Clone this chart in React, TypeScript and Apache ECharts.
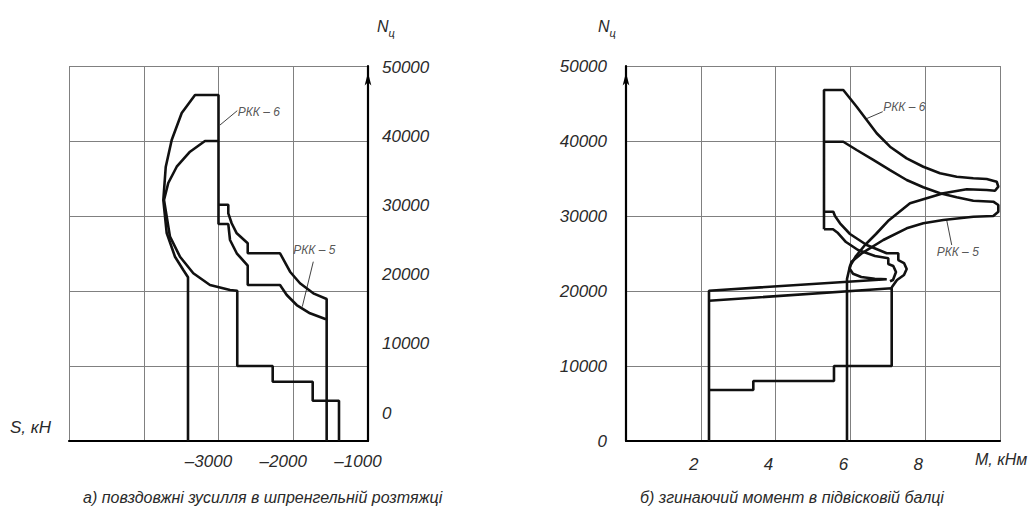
import React, { useEffect, useRef } from "react";
import * as echarts from "echarts";

// ---------- Left chart: S, kN (x) vs Nц (y) ----------
const leftXTicks = [-5000, -4000, -3000, -2000, -1000];
const leftYTicks = [0, 10000, 20000, 30000, 40000, 50000];

const leftOuter: [number, number][] = [
  [-3408, 0], [-3408, 21830], [-3471, 22800], [-3582, 24570], [-3693, 27730],
  [-3738, 32130], [-3706, 36530], [-3626, 40130], [-3492, 43730], [-3314, 46130],
  [-3000, 46130], [-3000, 28930], [-2869, 28930], [-2846, 26800], [-2756, 25030],
  [-2609, 23370], [-2609, 20800], [-2177, 20800], [-2087, 19470], [-1954, 18130],
  [-1776, 17030], [-1562, 16230],
];

const leftInner: [number, number][] = [
  [-1388, 0], [-1388, 5370], [-1740, 5370], [-1740, 7910], [-2275, 7910],
  [-2275, 10000], [-2749, 10000], [-2749, 20040], [-2846, 20130], [-3114, 20800],
  [-3337, 22360], [-3515, 24570], [-3649, 27240], [-3729, 32130], [-3672, 34400],
  [-3559, 36570], [-3381, 38570], [-3181, 40000], [-3000, 40000],
];

const leftUpperBranch: [number, number][] = [
  [-3000, 31510], [-2869, 31510], [-2869, 30360], [-2824, 29030], [-2756, 27690],
  [-2609, 26360], [-2609, 25030], [-2177, 25030], [-2043, 22570], [-1910, 21030],
  [-1732, 19690], [-1553, 18930], [-1553, 0],
];

const leftLeader6: [number, number][] = [[-2749, 44040], [-2980, 42130]];
const leftLeader5: [number, number][] = [[-1732, 23910], [-1879, 17910]];

// ---------- Right chart: M, kNm (x) vs Nц (y) ----------
const rightXTicks = [0, 2, 4, 6, 8, 10];
const rightYTicks = [0, 10000, 20000, 30000, 40000, 50000];

const rightRkk6Outer: [number, number][] = [
  [5.294, 28230], [5.294, 46800], [5.81, 46800], [6.168, 44570], [6.436, 42800],
  [6.703, 41030], [7.059, 39240], [7.505, 37690], [7.949, 36570], [8.396, 35690],
  [8.842, 35240], [9.286, 35030], [9.644, 34930], [9.912, 34570], [9.955, 33910],
  [9.866, 33370], [9.644, 33470], [9.11, 33560], [8.484, 33030], [7.594, 31690],
  [7.005, 29330], [6.684, 27600], [6.39, 26130], [6.15, 24670], [5.989, 23330],
  [5.909, 21600], [5.909, 0],
];

const rightRkk5Curve: [number, number][] = [
  [5.294, 39900], [5.81, 39900], [6.168, 38800], [6.612, 37470], [7.059, 36130],
  [7.505, 34800], [7.949, 33830], [8.396, 33030], [8.842, 32490], [9.286, 32040],
  [9.821, 31910], [9.955, 31470], [9.955, 30570], [9.821, 30000], [9.286, 29910],
  [8.484, 29470], [7.949, 29030], [7.505, 28360], [6.88, 26800], [6.291, 24970],
  [6.024, 23870], [5.981, 22970], [6.07, 22310], [6.291, 21870], [6.65, 21640],
  [6.971, 21560], [2.219, 20040], [2.219, 0],
];

const rightUpperBranch: [number, number][] = [
  [5.294, 30570], [5.543, 30570], [5.588, 30000], [5.722, 29030], [5.989, 27600],
  [6.436, 26130], [6.971, 25030], [7.281, 25030], [7.281, 24130], [7.433, 23730],
  [7.505, 22930], [7.433, 22130], [7.246, 21470], [7.112, 20530], [7.104, 20360],
];

const rightLowerBranch: [number, number][] = [
  [5.294, 28230], [5.535, 28230], [5.668, 27730], [5.882, 26530], [6.203, 25470],
  [6.658, 24670], [7.013, 24360], [7.013, 23600], [7.147, 23330], [7.219, 22530],
  [7.139, 21470], [7.059, 21300],
];

const rightSteps: [number, number][] = [
  [2.219, 18710], [7.104, 20360], [7.104, 10000], [5.561, 10000], [5.561, 8000],
  [3.404, 8000], [3.404, 6800], [2.219, 6800],
];

const rightLeader6: [number, number][] = [[6.864, 43910], [6.39, 42890]];
const rightLeader5: [number, number][] = [[8.574, 29470], [8.709, 26130]];

const FONT = "'Liberation Sans', 'DejaVu Sans', sans-serif";
const TEXT = "#2a2a2a";
const GRID = "#808080";
const INK = "#111";

function curve(data: [number, number][], axis: number, width = 2.6) {
  return {
    type: "line",
    xAxisIndex: axis,
    yAxisIndex: axis,
    data,
    symbol: "none",
    silent: true,
    lineStyle: { color: INK, width },
    z: 3,
  };
}

function tag(point: [number, number], axis: number, text: string, position: string, distance: number, offset: number[]) {
  return {
    type: "scatter",
    xAxisIndex: axis,
    yAxisIndex: axis,
    symbol: "circle",
    symbolSize: 1,
    itemStyle: { color: "rgba(0,0,0,0)" },
    silent: true,
    data: [{ value: point, name: text }],
    label: {
      show: true,
      formatter: text,
      position,
      distance,
      offset,
      fontFamily: FONT,
      fontStyle: "italic",
      fontSize: 12,
      color: TEXT,
    },
    z: 4,
  };
}

const tickText = {
  fontFamily: FONT,
  fontStyle: "italic",
  fontSize: 17,
  color: TEXT,
};

const plain = (v: number) => String(v);

function buildOption() {
  return {
    animation: false,
    backgroundColor: "#ffffff",
    grid: [
      { left: 69, top: 66, width: 299, height: 375 },
      { left: 69, top: 67, width: 299, height: 346 },
      { left: 626, top: 66, width: 374, height: 375 },
    ],
    xAxis: [
      {
        type: "value",
        gridIndex: 0,
        min: leftXTicks[0],
        max: leftXTicks[leftXTicks.length - 1],
        interval: 1000,
        axisLine: { show: true, onZero: false, lineStyle: { color: "#000", width: 2.2 } },
        axisTick: { show: false },
        splitLine: { show: true, lineStyle: { color: GRID, width: 1 } },
        axisLabel: {
          ...tickText,
          margin: 12,
          padding: [0, 20, 0, 0],
          formatter: (v: number) => (v >= -3000 ? "–" + Math.abs(v) : ""),
        },
      },
      { type: "value", gridIndex: 1, min: 0, max: 1, show: false },
      {
        type: "value",
        gridIndex: 2,
        min: rightXTicks[0],
        max: rightXTicks[rightXTicks.length - 1],
        interval: 2,
        axisLine: { show: true, onZero: false, lineStyle: { color: "#000", width: 2.2 } },
        axisTick: { show: false },
        splitLine: { show: true, lineStyle: { color: GRID, width: 1 } },
        axisLabel: {
          ...tickText,
          margin: 15,
          padding: [0, 14, 0, 0],
          formatter: (v: number) => (v === 0 || v === 10 ? "" : String(v)),
        },
      },
    ],
    yAxis: [
      {
        type: "value",
        gridIndex: 0,
        position: "right",
        min: leftYTicks[0],
        max: leftYTicks[leftYTicks.length - 1],
        interval: 10000,
        axisLine: {
          show: true,
          onZero: false,
          symbol: ["none", "arrow"],
          symbolSize: [5, 13],
          symbolOffset: [0, -6.5],
          lineStyle: { color: "#000", width: 2.2 },
        },
        axisTick: { show: false },
        axisLabel: { show: false },
        splitLine: { show: true, lineStyle: { color: GRID, width: 1 } },
      },
      {
        type: "value",
        gridIndex: 1,
        position: "right",
        min: leftYTicks[0],
        max: leftYTicks[leftYTicks.length - 1],
        interval: 10000,
        axisLine: { show: false },
        axisTick: { show: false },
        splitLine: { show: false },
        axisLabel: { ...tickText, margin: 14, formatter: plain },
      },
      {
        type: "value",
        gridIndex: 2,
        position: "left",
        min: rightYTicks[0],
        max: rightYTicks[rightYTicks.length - 1],
        interval: 10000,
        axisLine: {
          show: true,
          onZero: false,
          symbol: ["none", "arrow"],
          symbolSize: [5, 13],
          symbolOffset: [0, -6.5],
          lineStyle: { color: "#000", width: 2.2 },
        },
        axisTick: { show: false },
        splitLine: { show: true, lineStyle: { color: GRID, width: 1 } },
        axisLabel: { ...tickText, margin: 19, padding: [0, 0, 11, 0], formatter: plain },
      },
    ],
    series: [
      curve(leftOuter, 0),
      curve(leftInner, 0),
      curve(leftUpperBranch, 0),
      curve(leftLeader6, 0, 0.8),
      curve(leftLeader5, 0, 0.8),
      tag(leftLeader6[0], 0, "РКК – 6", "right", 0, [0, 1]),
      tag(leftLeader5[0], 0, "РКК – 5", "top", 5, [1, 0]),
      curve(rightRkk6Outer, 2),
      curve(rightRkk5Curve, 2),
      curve(rightUpperBranch, 2),
      curve(rightLowerBranch, 2),
      curve(rightSteps, 2),
      curve(rightLeader6, 2, 0.8),
      curve(rightLeader5, 2, 0.8),
      tag(rightLeader6[0], 2, "РКК – 6", "right", 0, [0, -5]),
      tag(rightLeader5[1], 2, "РКК – 5", "bottom", 0, [6, 0]),
    ],
    graphic: [
      {
        type: "text",
        left: 377,
        top: 18,
        style: {
          text: "{n|N}{s|ц}",
          rich: {
            n: { fontFamily: FONT, fontStyle: "italic", fontSize: 16, lineHeight: 20, verticalAlign: "top", fill: TEXT },
            s: { fontFamily: FONT, fontStyle: "italic", fontSize: 11, lineHeight: 20, verticalAlign: "bottom", fill: TEXT },
          },
        },
      },
      {
        type: "text",
        left: 598,
        top: 18,
        style: {
          text: "{n|N}{s|ц}",
          rich: {
            n: { fontFamily: FONT, fontStyle: "italic", fontSize: 16, lineHeight: 20, verticalAlign: "top", fill: TEXT },
            s: { fontFamily: FONT, fontStyle: "italic", fontSize: 11, lineHeight: 20, verticalAlign: "bottom", fill: TEXT },
          },
        },
      },
      {
        type: "text",
        left: 10,
        top: 419,
        style: { text: "S, кН", fontFamily: FONT, fontStyle: "italic", fontSize: 17, fill: TEXT },
      },
      {
        type: "text",
        left: 975,
        top: 451,
        style: { text: "M, кНм", fontFamily: FONT, fontStyle: "italic", fontSize: 16, fill: TEXT },
      },
      {
        type: "text",
        left: 83,
        top: 489,
        style: { text: "а) повздовжні зусилля в шпренгельній розтяжці", fontFamily: FONT, fontStyle: "italic", fontSize: 16, fill: TEXT },
      },
      {
        type: "text",
        left: 640,
        top: 489,
        style: { text: "б) згинаючий момент в підвісковій балці", fontFamily: FONT, fontStyle: "italic", fontSize: 16, fill: TEXT },
      },
    ],
  };
}

export default function App() {
  const ref = useRef<HTMLDivElement>(null);
  useEffect(() => {
    document.body.style.margin = "0";
    const chart = echarts.init(ref.current as HTMLDivElement, null, { renderer: "svg" });
    chart.setOption(buildOption() as any);
    return () => chart.dispose();
  }, []);
  return <div ref={ref} style={{ width: 1028, height: 509, background: "#fff" }} />;
}
